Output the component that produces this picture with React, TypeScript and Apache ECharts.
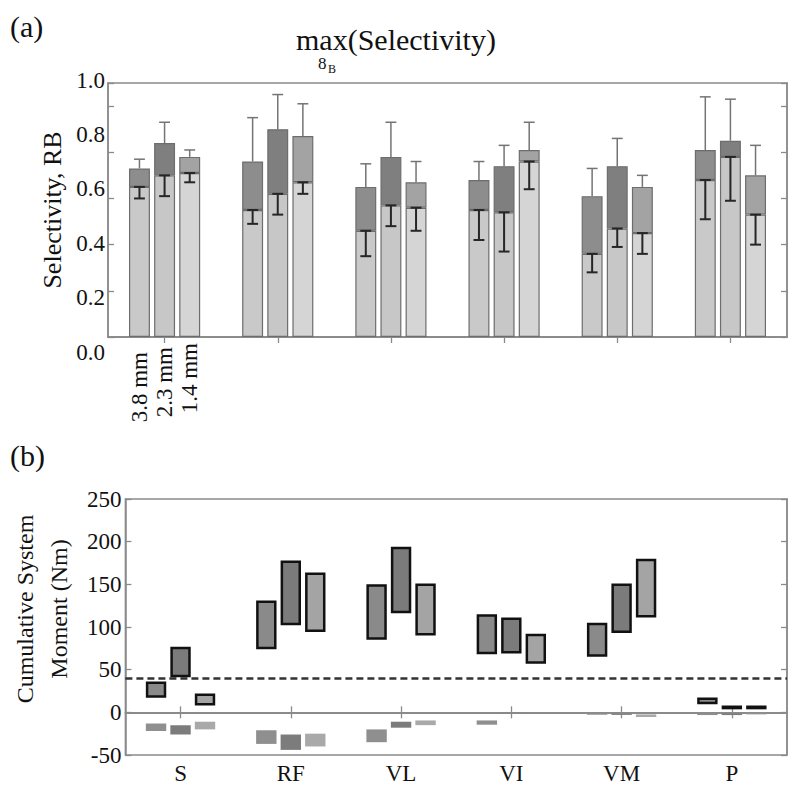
import React, { useEffect, useRef } from "react";
import * as echarts from "echarts";

const FONT = '"Liberation Serif", "Times New Roman", serif';
const AXIS = "#8a8a8a";
const INK = "#111111";

// categories
const groups = ["S", "RF", "VL", "VI", "VM", "P"];
const resolutions = ["3.8 mm", "2.3 mm", "1.4 mm"];
const topTickLabels = ["0.0", "0.2", "0.4", "0.6", "0.8", "1.0"];

// (a) selectivity: lighter lower part, its lower error, top of darker part, its upper error
const selLight = [
  [0.65, 0.55, 0.46, 0.55, 0.36, 0.68],
  [0.70, 0.62, 0.57, 0.54, 0.47, 0.78],
  [0.71, 0.67, 0.56, 0.76, 0.45, 0.53],
];
const selLightLow = [
  [0.60, 0.49, 0.35, 0.42, 0.28, 0.51],
  [0.61, 0.53, 0.48, 0.37, 0.39, 0.59],
  [0.67, 0.62, 0.46, 0.64, 0.36, 0.40],
];
const selMax = [
  [0.73, 0.76, 0.65, 0.68, 0.61, 0.81],
  [0.84, 0.90, 0.78, 0.74, 0.74, 0.85],
  [0.78, 0.87, 0.67, 0.81, 0.65, 0.70],
];
const selMaxHigh = [
  [0.77, 0.95, 0.75, 0.76, 0.73, 1.04],
  [0.93, 1.05, 0.93, 0.83, 0.86, 1.03],
  [0.81, 1.01, 0.76, 0.93, 0.70, 0.83],
];

// (b) cumulative system moment ranges (Nm)
const posHigh = [
  [36, 131, 150, 115, 105, 17.5],
  [77, 178, 194, 111, 151, 8],
  [22, 164, 151, 92, 180, 8],
];
const posLow = [
  [17, 74, 85, 68, 65, 9.5],
  [41, 102, 116, 69, 93, 3.5],
  [8, 94, 90, 57, 111, 3.5],
];
const negHigh = [
  [-13, -21, -20, -9.5, -0.3, -0.5],
  [-15, -26, -11, -0.3, -0.3, -0.5],
  [-11, -25, -9.5, null, -2.4, -0.5],
];
const negLow = [
  [-22, -37, -35, -14.5, -2.8, -3.2],
  [-26, -44, -18, -1.5, -3, -3.2],
  [-20, -40, -15, null, -5.5, -2.5],
];
const thresholdLine = 40;

const lightColors = ["#c9c9c9", "#c7c7c7", "#d5d5d5"];
const darkColors = ["#8d8d8d", "#7f7f7f", "#a3a3a3"];
const boxColors = ["#8a8a8a", "#7b7b7b", "#a4a4a4"];
const negColors = ["#8f8f8f", "#7c7c7c", "#a9a9a9"];
const labelOffsets = [-9, -4, 0];

const BAR_FRAC = 0.185;
const GAP_FRAC = 0.2;

function barX(api: any, c: number, k: number) {
  const band = api.size([1, 0])[0];
  const bw = band * BAR_FRAC;
  const x = api.coord([c, 0])[0] + (k - 1) * bw * (1 + GAP_FRAC);
  return { x, bw };
}

function errRender(k: number) {
  return (params: any, api: any) => {
    const c = api.value(0);
    const { x, bw } = barX(api, c, k);
    const yB = api.coord([c, api.value(1)])[1];
    const yL = api.coord([c, api.value(2)])[1];
    const yT = api.coord([c, api.value(3)])[1];
    const yU = api.coord([c, api.value(4)])[1];
    const h = bw * 0.26;
    const grey = { stroke: "#747474", lineWidth: 1.5 };
    const black = { stroke: "#262626", lineWidth: 2 };
    return {
      type: "group",
      children: [
        { type: "line", shape: { x1: x, y1: yT, x2: x, y2: yU }, style: grey },
        { type: "line", shape: { x1: x - h, y1: yU, x2: x + h, y2: yU }, style: grey },
        { type: "line", shape: { x1: x, y1: yB, x2: x, y2: yL }, style: black },
        { type: "line", shape: { x1: x - h, y1: yB, x2: x + h, y2: yB }, style: black },
        { type: "line", shape: { x1: x - h, y1: yL, x2: x + h, y2: yL }, style: black },
      ],
    };
  };
}

function boxRender(k: number, fill: string, bordered: boolean) {
  return (params: any, api: any) => {
    const c = api.value(0);
    const { x, bw } = barX(api, c, k);
    const y1 = api.coord([c, api.value(1)])[1];
    const y2 = api.coord([c, api.value(2)])[1];
    const inset = bordered ? 1.25 : 0;
    return {
      type: "rect",
      shape: {
        x: x - bw / 2 + inset,
        y: Math.min(y1, y2) + inset,
        width: bw - 2 * inset,
        height: Math.max(Math.abs(y1 - y2) - 2 * inset, 0.5),
      },
      style: bordered
        ? { fill, stroke: "#111111", lineWidth: 2.5 }
        : { fill, stroke: null },
    };
  };
}

export default function App() {
  const ref = useRef<HTMLDivElement>(null);

  useEffect(() => {
    if (!ref.current) return;
    const chart = echarts.init(ref.current, null, { renderer: "svg" });

    const tick = (show = true) => ({
      show,
      inside: true,
      alignWithLabel: true,
      length: 6,
      lineStyle: { color: AXIS, width: 1.3 },
    });
    const line = { show: true, lineStyle: { color: AXIS, width: 1.5 } };

    const series: any[] = [];
    resolutions.forEach((res, k) => {
      series.push({
        type: "bar",
        name: res + " base",
        xAxisIndex: 0,
        yAxisIndex: 0,
        stack: "r" + k,
        barWidth: BAR_FRAC * 100 + "%",
        barGap: GAP_FRAC * 100 + "%",
        itemStyle: { color: lightColors[k], borderColor: "#6d6d6d", borderWidth: 1.2 },
        data: selLight[k].map((v, i) =>
          i === 0
            ? {
                value: v,
                label: {
                  show: true,
                  formatter: res,
                  position: "bottom",
                  distance: 6,
                  rotate: 90,
                  align: "right",
                  verticalAlign: "middle",
                  offset: [labelOffsets[k], 0],
                  fontSize: 23,
                  color: INK,
                  fontFamily: FONT,
                },
              }
            : v
        ),
      });
      series.push({
        type: "bar",
        name: res + " max",
        xAxisIndex: 0,
        yAxisIndex: 0,
        stack: "r" + k,
        barWidth: BAR_FRAC * 100 + "%",
        barGap: GAP_FRAC * 100 + "%",
        itemStyle: { color: darkColors[k], borderColor: "#6d6d6d", borderWidth: 1.2 },
        data: selMax[k].map((v, i) => +(v - selLight[k][i]).toFixed(3)),
      });
    });
    resolutions.forEach((res, k) => {
      series.push({
        type: "custom",
        name: res + " err",
        xAxisIndex: 0,
        yAxisIndex: 0,
        z: 5,
        renderItem: errRender(k),
        encode: { x: 0, y: [1, 2, 3, 4] },
        data: groups.map((g, i) => [
          i,
          selLight[k][i],
          selLightLow[k][i],
          selMax[k][i],
          selMaxHigh[k][i],
        ]),
      });
    });
    resolutions.forEach((res, k) => {
      series.push({
        type: "custom",
        name: res + " moment",
        xAxisIndex: 2,
        yAxisIndex: 2,
        z: 5,
        renderItem: boxRender(k, boxColors[k], true),
        encode: { x: 0, y: [1, 2] },
        data: groups.map((g, i) => [i, posLow[k][i], posHigh[k][i]]),
        markLine:
          k === 0
            ? {
                silent: true,
                symbol: "none",
                label: { show: false },
                animation: false,
                data: [
                  { yAxis: 0, lineStyle: { color: AXIS, width: 1.6, type: "solid" } },
                  { yAxis: thresholdLine, lineStyle: { color: "#333333", width: 2.5, type: [7, 4] } },
                ],
              }
            : undefined,
      });
      series.push({
        type: "custom",
        name: res + " negative",
        xAxisIndex: 2,
        yAxisIndex: 2,
        z: 4,
        renderItem: boxRender(k, negColors[k], false),
        encode: { x: 0, y: [1, 2] },
        data: groups
          .map((g, i) => [i, negLow[k][i], negHigh[k][i]])
          .filter((d) => d[1] !== null && d[2] !== null),
      });
    });

    const titleStyle = (size: number) => ({
      fontSize: size,
      fontWeight: "normal",
      fontFamily: FONT,
      color: INK,
      lineHeight: size,
    });

    chart.setOption({
      animation: false,
      textStyle: { fontFamily: FONT },
      title: [
        { text: "(a)", left: 10, top: 11, padding: 0, textStyle: titleStyle(30) },
        { text: "(b)", left: 10, top: 440, padding: 0, textStyle: titleStyle(30) },
        { text: "max(Selectivity)", left: 296, top: 24, padding: 0, textStyle: titleStyle(30) },
        { text: "8", left: 318, top: 55, padding: 0, textStyle: titleStyle(17) },
        { text: "B", left: 328, top: 63, padding: 0, textStyle: titleStyle(12) },
      ],
      grid: [
        { left: 108, right: 13, top: 83, height: 254, show: true, borderColor: AXIS, borderWidth: 1.5 },
        { left: 110, right: 13, top: 499, height: 256, show: true, borderColor: AXIS, borderWidth: 1.5 },
        { left: 108, right: 13, top: 80, height: 272, show: false },
      ],
      xAxis: [
        { gridIndex: 0, type: "category", data: groups, axisLabel: { show: false }, axisTick: tick(), axisLine: line },
        { gridIndex: 0, type: "category", position: "top", data: groups, axisLabel: { show: false }, axisTick: tick(), axisLine: line },
        {
          gridIndex: 1,
          type: "category",
          data: groups,
          axisLabel: { fontSize: 23, color: INK, margin: 7, fontFamily: FONT },
          axisTick: tick(),
          axisLine: line,
        },
        { gridIndex: 1, type: "category", position: "top", data: groups, axisLabel: { show: false }, axisTick: tick(), axisLine: line },
        { gridIndex: 2, type: "value", show: false, min: 0, max: 1 },
      ],
      yAxis: [
        {
          gridIndex: 0,
          type: "value",
          min: 0,
          max: 1.1,
          interval: 0.2,
          axisLabel: { show: false },
          axisTick: tick(),
          axisLine: line,
          splitLine: { show: false },
          name: "Selectivity, RB",
          nameLocation: "middle",
          nameGap: 43,
          nameTextStyle: { fontSize: 26, color: INK, fontFamily: FONT },
        },
        {
          gridIndex: 0,
          type: "value",
          position: "right",
          min: 0,
          max: 1.1,
          interval: 0.2,
          axisLabel: { show: false },
          axisTick: tick(),
          axisLine: line,
          splitLine: { show: false },
        },
        {
          gridIndex: 1,
          type: "value",
          min: -50,
          max: 250,
          interval: 50,
          axisLabel: { fontSize: 23, color: INK, margin: 4, fontFamily: FONT },
          axisTick: tick(),
          axisLine: line,
          splitLine: { show: false },
          name: "Cumulative System\nMoment (Nm)",
          nameLocation: "middle",
          nameGap: 34,
          nameTextStyle: { fontSize: 24, lineHeight: 34, color: INK, fontFamily: FONT, padding: [0, 0, 0, 36] },
        },
        {
          gridIndex: 1,
          type: "value",
          position: "right",
          min: -50,
          max: 250,
          interval: 50,
          axisLabel: { show: false },
          axisTick: tick(),
          axisLine: line,
          splitLine: { show: false },
        },
        {
          gridIndex: 2,
          type: "value",
          min: 0,
          max: 1,
          interval: 0.2,
          axisLine: { show: false },
          axisTick: { show: false },
          splitLine: { show: false },
          axisLabel: {
            fontSize: 23,
            color: INK,
            margin: 3,
            fontFamily: FONT,
            formatter: (v: number) => topTickLabels[Math.round(v / 0.2)] ?? v.toFixed(1),
          },
        },
      ],
      series,
    });

    return () => chart.dispose();
  }, []);

  return (
    <div
      ref={ref}
      style={{ position: "absolute", left: 0, top: 0, width: 800, height: 796, background: "#fff" }}
    />
  );
}
